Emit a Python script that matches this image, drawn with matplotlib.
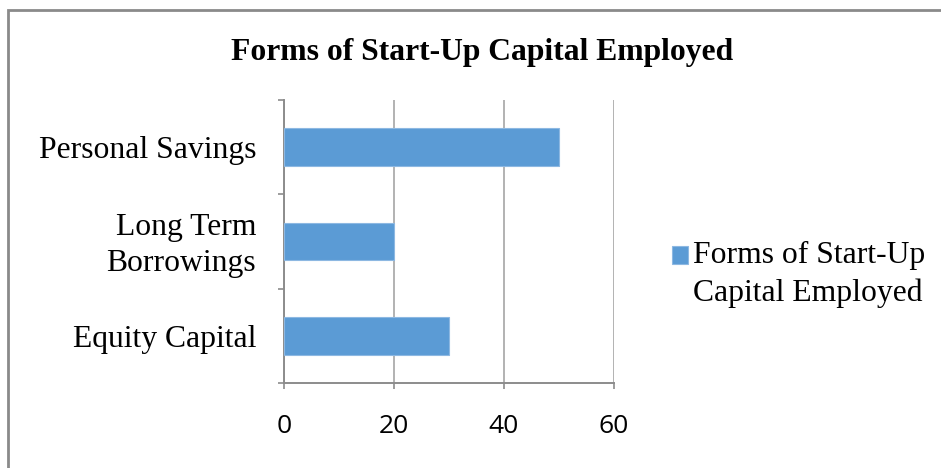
import matplotlib.pyplot as plt
from matplotlib.patches import Rectangle
from matplotlib.container import BarContainer
from matplotlib.legend_handler import HandlerPatch, update_from_first_child
from matplotlib.transforms import ScaledTranslation

categories = ['Equity Capital', 'Long Term\nBorrowings', 'Personal Savings']
values = [30, 20, 50]
series_name = 'Forms of Start-Up\nCapital Employed'
title = 'Forms of Start-Up Capital Employed'
x_ticks = [0, 20, 40, 60]

serif = 'Liberation Serif'
sans = 'Open Sans'
grey = '#8c8c8c'
fs = 22.8

fig = plt.figure(figsize=(9.41, 4.68), dpi=100)
ax = fig.add_axes([0.3018, 0.1816, 0.3507, 0.6047])

pos = list(range(len(categories)))
ax.barh(pos, values, height=0.4, color='#5b9bd5', edgecolor='#8db8e2',
        linewidth=0.8, label=series_name, zorder=3)

ax.set_xlim(0, 60)
ax.set_ylim(-0.5, len(categories) - 0.5)

# x axis
ax.set_xticks(x_ticks)
ax.set_xticklabels([str(t) for t in x_ticks], fontfamily=sans, fontsize=19)
ax.tick_params(axis='x', direction='out', length=4.5, width=1.2, color=grey, pad=18)
ax.grid(axis='x', color='#a6a6a6', linewidth=1.2, zorder=0)

# y axis: ticks on the category boundaries, labels centred on the bars
ax.set_yticks([p - 0.5 for p in pos] + [pos[-1] + 0.5])
ax.set_yticklabels([])
ax.set_yticks(pos, minor=True)
ax.set_yticklabels(categories, minor=True, fontfamily=serif, fontsize=fs,
                   linespacing=1.32)
ax.tick_params(axis='y', which='major', direction='out', length=4.5, width=1.2, color=grey)
ax.tick_params(axis='y', which='minor', length=0, pad=20)

# the wrapped label is centred on its whole block, nudged down slightly
for tick in ax.yaxis.get_minor_ticks():
    lab = tick.label1
    if '\n' in lab.get_text():
        lab.set_verticalalignment('center')
        lab.set_transform(lab.get_transform()
                          + ScaledTranslation(0, -3 / 72, fig.dpi_scale_trans))

for side in ['top', 'right']:
    ax.spines[side].set_visible(False)
for side in ['left', 'bottom']:
    ax.spines[side].set_color(grey)
    ax.spines[side].set_linewidth(1.4)

fig.text(0.512, 0.887, title, ha='center', va='center', fontfamily=serif,
         fontsize=fs, fontweight='bold')


# legend key sits level with the first line of the wrapped label
def top_square(legend, orig_handle, xdescent, ydescent, width, height, fontsize):
    return Rectangle((-xdescent, -ydescent + 0.62 * fontsize), width, height)


leg = fig.legend(loc='center left', bbox_to_anchor=(0.7005, 0.413), frameon=False,
                 prop={'family': serif, 'size': fs}, handlelength=0.5,
                 handleheight=0.5, handletextpad=0.16, borderaxespad=0,
                 handler_map={BarContainer: HandlerPatch(
                     patch_func=top_square, update_func=update_from_first_child)})
for t in leg.get_texts():
    t.set_linespacing(1.38)

# outer chart frame, cut by the right and bottom edges
fig.patches.append(Rectangle((8 / 941, -0.1), 1.2, 1.1 - 10 / 468,
                             transform=fig.transFigure, fill=False,
                             edgecolor='#8a8a8a', linewidth=2))

fig.savefig('out.png', dpi=100)
